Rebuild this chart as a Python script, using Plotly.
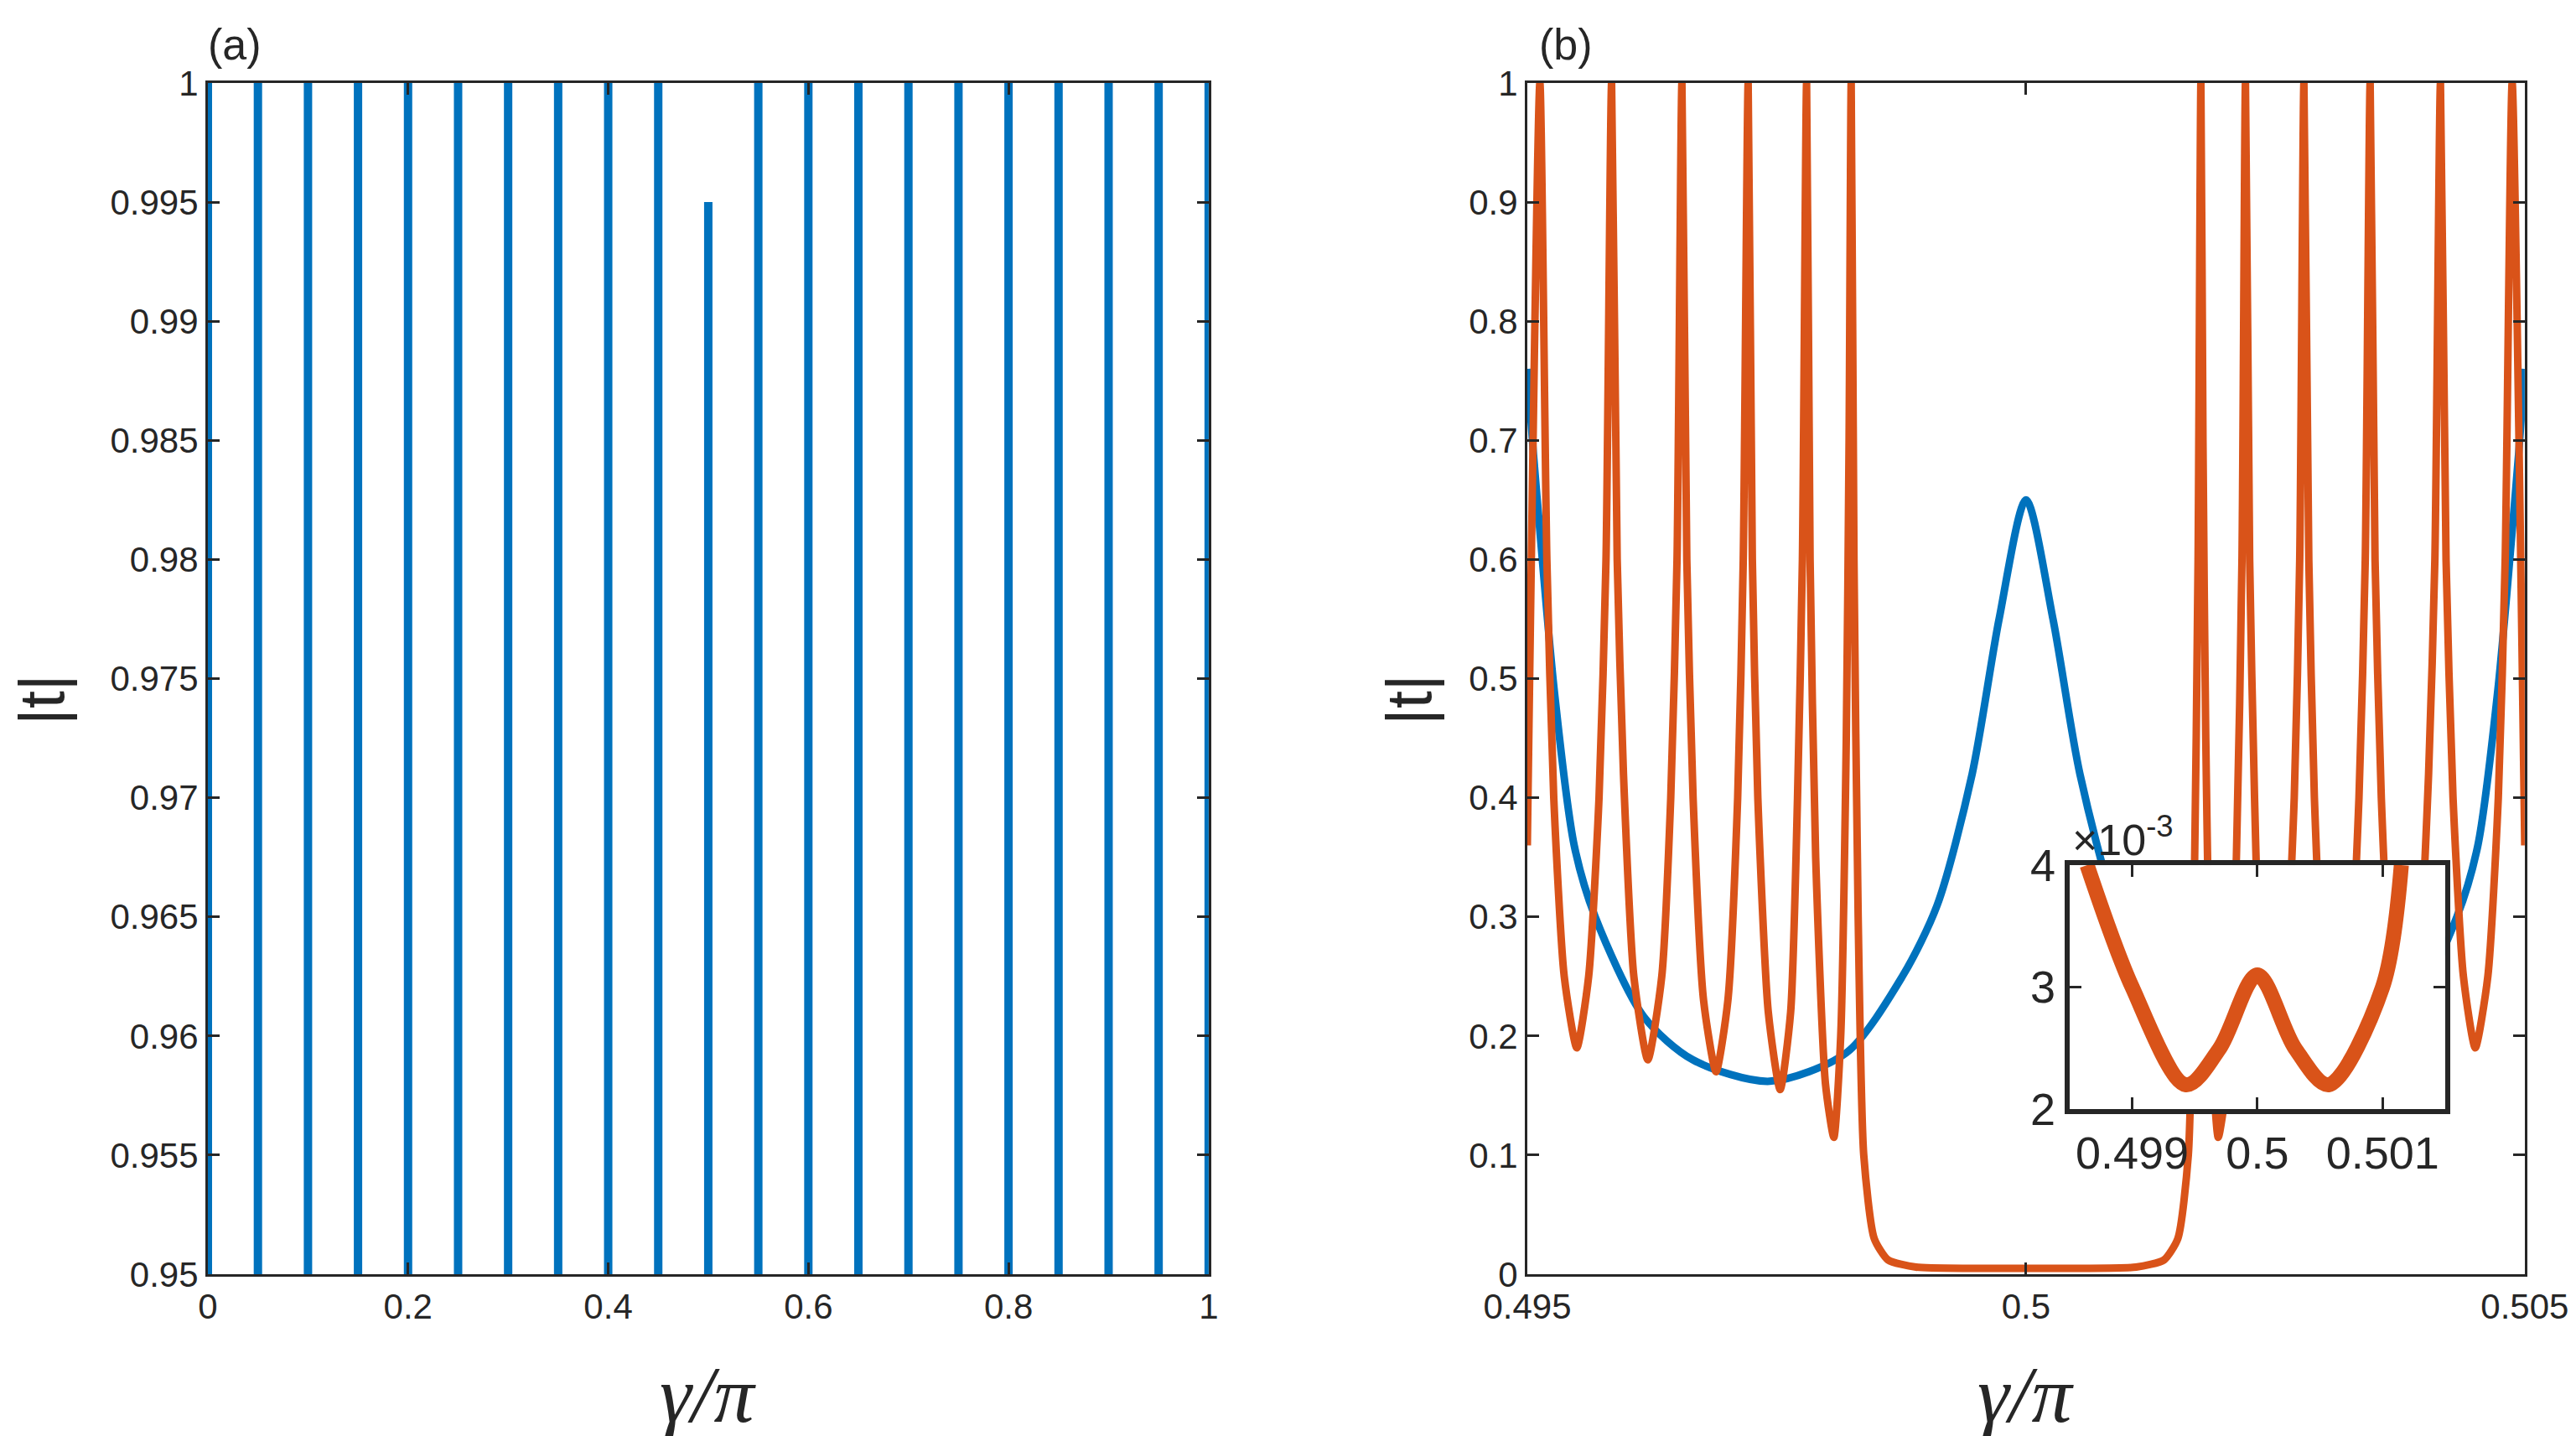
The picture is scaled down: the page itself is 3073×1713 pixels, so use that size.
import plotly.graph_objects as go

# panel (a): resonance spikes of |t| vs gamma/pi
spike_centers = [0.0, 0.05, 0.1, 0.15, 0.2, 0.25, 0.3, 0.35, 0.4, 0.45, 0.5,
                 0.55, 0.6, 0.65, 0.7, 0.75, 0.8, 0.85, 0.9, 0.95, 1.0]
spike_peaks = [1, 1, 1, 1, 1, 1, 1, 1, 1, 1, 0.995,
               1, 1, 1, 1, 1, 1, 1, 1, 1, 1]
spike_floor = 0.94  # below the visible range

# panel (b): blue curve
blue_x = [0.49500, 0.49506, 0.49513, 0.49527, 0.49547, 0.49568, 0.49617, 0.49666,
          0.49743, 0.49820, 0.49876, 0.49911, 0.49946, 0.49973, 0.50000,
          0.50027, 0.50054, 0.50089, 0.50124, 0.50180, 0.50257, 0.50334,
          0.50383, 0.50432, 0.50453, 0.50473, 0.50487, 0.50494, 0.50500]
blue_y = [0.76, 0.69, 0.62, 0.49, 0.36, 0.30, 0.216, 0.18, 0.162, 0.186, 0.25,
          0.31, 0.42, 0.55, 0.65,
          0.55, 0.42, 0.31, 0.25, 0.186, 0.162, 0.18, 0.216, 0.30, 0.36,
          0.49, 0.62, 0.69, 0.76]

# panel (b): orange curve
orange_x = [
    0.495000, 0.495126, 0.495196, 0.495265, 0.495370, 0.495496, 0.495615, 0.495719,
    0.495789, 0.495845, 0.495901, 0.495964, 0.496068, 0.496208, 0.496348, 0.496438,
    0.496501, 0.496550, 0.496599, 0.496662, 0.496767, 0.496892, 0.497011, 0.497109,
    0.497165, 0.497214, 0.497256, 0.497311, 0.497416, 0.497535, 0.497640, 0.497709,
    0.497758, 0.497800, 0.497835, 0.497891, 0.497989, 0.498073, 0.498142, 0.498198,
    0.498226, 0.498247, 0.498275, 0.498317, 0.498373, 0.498478, 0.498617, 0.498897,
    0.499455, 0.500000,
    0.500545, 0.501103, 0.501383, 0.501522, 0.501627, 0.501683, 0.501725, 0.501753,
    0.501774, 0.501802, 0.501858, 0.501927, 0.502011, 0.502109, 0.502165, 0.502200,
    0.502242, 0.502291, 0.502360, 0.502465, 0.502584, 0.502689, 0.502744, 0.502786,
    0.502835, 0.502891, 0.502989, 0.503108, 0.503233, 0.503338, 0.503401, 0.503450,
    0.503499, 0.503562, 0.503652, 0.503792, 0.503932, 0.504036, 0.504099, 0.504155,
    0.504211, 0.504281, 0.504385, 0.504504, 0.504630, 0.504735, 0.504804, 0.504874,
    0.505000]
orange_y = [
    0.36, 1.0, 0.6, 0.4, 0.25, 0.19, 0.25, 0.4,
    0.6, 1.0, 0.6, 0.42, 0.25, 0.18, 0.25, 0.4,
    0.6, 1.0, 0.6, 0.4, 0.23, 0.17, 0.23, 0.4,
    0.6, 1.0, 0.6, 0.4, 0.22, 0.155, 0.22, 0.4,
    0.6, 1.0, 0.6, 0.35, 0.16, 0.115, 0.2, 0.45,
    0.7, 1.0, 0.6, 0.3, 0.1, 0.03, 0.012, 0.006,
    0.005, 0.005,
    0.005, 0.006, 0.012, 0.03, 0.1, 0.3, 0.6, 1.0,
    0.7, 0.45, 0.2, 0.115, 0.16, 0.35, 0.6, 1.0,
    0.6, 0.4, 0.22, 0.155, 0.22, 0.4, 0.6, 1.0,
    0.6, 0.4, 0.23, 0.17, 0.23, 0.4, 0.6, 1.0,
    0.6, 0.4, 0.25, 0.18, 0.25, 0.42, 0.6, 1.0,
    0.6, 0.4, 0.25, 0.19, 0.25, 0.4, 0.6, 1.0,
    0.36]

# inset: orange curve near gamma/pi = 0.5, in units of 1e-3
inset_x = [0.49864, 0.49900, 0.49943, 0.49970, 0.50000, 0.50030, 0.50057, 0.50100, 0.50115]
inset_y = [4.0, 3.0, 2.2, 2.5, 3.1, 2.5, 2.2, 3.0, 4.0]

BLUE = "#0072BD"
ORANGE = "#D95319"
AX = "#262626"
FONT = "Liberation Sans"

sx, sy = [], []
for c, p in zip(spike_centers, spike_peaks):
    sx += [c, c, None]
    sy += [spike_floor, p, None]

fig = go.Figure()
fig.add_trace(go.Scatter(x=sx, y=sy, mode="lines", line=dict(color=BLUE, width=10),
                         xaxis="x", yaxis="y", showlegend=False))
fig.add_trace(go.Scatter(x=blue_x, y=blue_y, mode="lines",
                         line=dict(color=BLUE, width=9, shape="spline", smoothing=0.8),
                         xaxis="x2", yaxis="y2", showlegend=False))
fig.add_trace(go.Scatter(x=orange_x, y=orange_y, mode="lines",
                         line=dict(color=ORANGE, width=9, shape="spline", smoothing=0.6),
                         xaxis="x2", yaxis="y2", showlegend=False))
fig.add_trace(go.Scatter(x=inset_x, y=inset_y, mode="lines",
                         line=dict(color=ORANGE, width=18, shape="spline", smoothing=0.9),
                         xaxis="x3", yaxis="y3", showlegend=False))

axis_common = dict(showline=True, linecolor=AX, linewidth=3, mirror="ticks",
                   ticks="inside", ticklen=14, tickwidth=3, tickcolor=AX,
                   showgrid=False, zeroline=False, automargin=False,
                   tickfont=dict(family=FONT, size=42, color=AX))
inset_axis = {**axis_common, "linewidth": 6,
              "tickfont": dict(family=FONT, size=54, color=AX)}

fig.update_layout(
    width=3073, height=1713,
    margin=dict(l=0, r=0, t=0, b=0),
    paper_bgcolor="white", plot_bgcolor="white",
    xaxis=dict(domain=[0.0781, 0.4666], range=[0, 1],
               tickvals=[0, 0.2, 0.4, 0.6, 0.8, 1],
               ticktext=["0", "0.2", "0.4", "0.6", "0.8", "1"], anchor="y", **axis_common),
    yaxis=dict(domain=[0.1173, 0.9469], range=[0.95, 1],
               tickvals=[0.95, 0.955, 0.96, 0.965, 0.97, 0.975, 0.98, 0.985, 0.99, 0.995, 1],
               ticktext=["0.95", "0.955", "0.96", "0.965", "0.97", "0.975", "0.98",
                         "0.985", "0.99", "0.995", "1"], anchor="x", **axis_common),
    xaxis2=dict(domain=[0.5903, 0.9775], range=[0.495, 0.505],
                tickvals=[0.495, 0.5, 0.505], ticktext=["0.495", "0.5", "0.505"],
                anchor="y2", **axis_common),
    yaxis2=dict(domain=[0.1173, 0.9469], range=[0, 1],
                tickvals=[i / 10 for i in range(11)],
                ticktext=["0", "0.1", "0.2", "0.3", "0.4", "0.5", "0.6", "0.7", "0.8", "0.9", "1"],
                anchor="x2", **axis_common),
    xaxis3=dict(domain=[0.8008, 0.9466], range=[0.4985, 0.5015],
                tickvals=[0.499, 0.5, 0.501], ticktext=["0.499", "0.5", "0.501"],
                anchor="y3", **inset_axis),
    yaxis3=dict(domain=[0.2323, 0.4022], range=[2, 4],
                tickvals=[2, 3, 4], ticktext=["2", "3", "4"],
                anchor="x3", **inset_axis),
)


def label(text, x, y, size, family=FONT, italic=False, angle=0, xanchor="center"):
    fig.add_annotation(text=f"<i>{text}</i>" if italic else text,
                       x=x, y=y, xref="paper", yref="paper", showarrow=False,
                       textangle=angle, xanchor=xanchor, yanchor="middle",
                       font=dict(family=family, size=size, color=AX))


H, W = 1713, 3073
label("(a)", 272 / W, 1 - 45 / H, 52)
label("(b)", 1860 / W, 1 - 45 / H, 52)
label("γ/π", 837 / W, 1 - 1655 / H, 96, family="Liberation Serif", italic=True)
label("γ/π", 2409 / W, 1 - 1655 / H, 96, family="Liberation Serif", italic=True)
label("|t|", 42 / W, 1 - 827 / H, 76, angle=-90)
label("|t|", 1673 / W, 1 - 827 / H, 76, angle=-90)
label("×10<sup>-3</sup>", 2462 / W, 1 - 990 / H, 52, xanchor="left")

fig.write_html("out.html")
